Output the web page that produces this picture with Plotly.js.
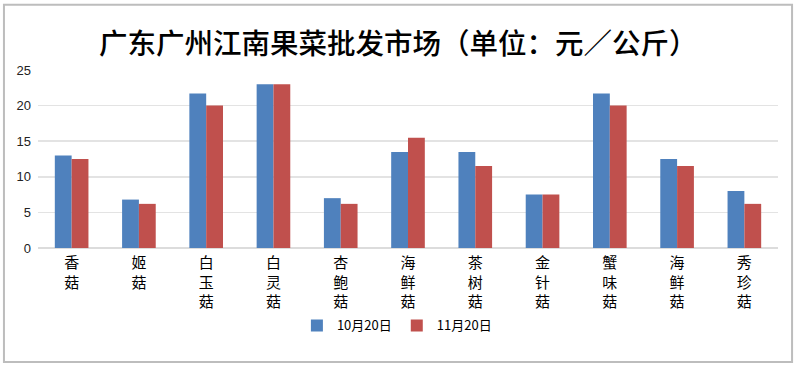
<!DOCTYPE html>
<html>
<head>
<meta charset="utf-8">
<script src="https://cdn.plot.ly/plotly-3.0.1.min.js"></script>
<style>
html,body{margin:0;padding:0;background:#fff;}
#chart{width:800px;height:368px;}
</style>
</head>
<body>
<div id="chart"></div>
<script>
var categories = ["香菇", "姬菇", "白玉菇", "白灵菇", "杏鲍菇", "海鲜菇", "茶树菇", "金针菇", "蟹味菇", "海鲜菇", "秀珍菇"];
var seriesNames = ["10月20日", "11月20日"];
var oct20 = [13, 6.8, 21.7, 23, 7, 13.5, 13.5, 7.5, 21.7, 12.5, 8];
var nov20 = [12.5, 6.2, 20, 23, 6.2, 15.5, 11.5, 7.5, 20, 11.5, 6.2];
var yTicks = [0, 5, 10, 15, 20, 25];

var positions = categories.map(function (c, i) { return i; });
var tickText = categories.map(function (c) { return c.split("").join("<br>"); });

var traces = [
  {type: "bar", name: seriesNames[0], x: positions, y: oct20, marker: {color: "#4F81BD"}, hoverinfo: "y"},
  {type: "bar", name: seriesNames[1], x: positions, y: nov20, marker: {color: "#C0504D"}, hoverinfo: "y"}
];

var layout = {
  width: 800, height: 368,
  margin: {l: 38, r: 22, t: 70, b: 120.3},
  paper_bgcolor: "#ffffff", plot_bgcolor: "#ffffff",
  font: {family: "Noto Sans CJK SC, sans-serif", color: "#000"},
  title: {
    text: "广东广州江南果菜批发市场（单位：元／公斤）",
    font: {family: "Noto Sans CJK SC, sans-serif", size: 28.5, color: "#000", weight: 500},
    x: 0.487, xanchor: "center", y: 0.88, yanchor: "middle", xref: "paper", yref: "container"
  },
  barmode: "group", bargap: 0.5, bargroupgap: 0,
  xaxis: {
    tickmode: "array", tickvals: positions, ticktext: tickText,
    range: [-0.5, categories.length - 0.5],
    showgrid: false, zeroline: false, showline: false, ticks: "",
    ticklabelstandoff: 4,
    tickfont: {family: "Noto Sans CJK SC, sans-serif", size: 15, color: "#000"},
    fixedrange: true
  },
  yaxis: {
    range: [0, 25], tickmode: "array", tickvals: yTicks,
    showgrid: true, gridcolor: "#e3e3e3", gridwidth: 1.5,
    zeroline: true, zerolinecolor: "#dcdcdc", zerolinewidth: 1.5,
    showline: false, ticks: "", ticklabelstandoff: 6,
    tickfont: {family: "Liberation Sans, Arial, sans-serif", size: 13, color: "#222"},
    fixedrange: true
  },
  showlegend: true,
  legend: {
    orientation: "h", x: 0.485, xanchor: "center", y: -0.435, yanchor: "middle",
    font: {family: "Noto Sans CJK SC, sans-serif", size: 13, color: "#000"},
    itemwidth: 30, tracegroupgap: 0
  },
  shapes: [{
    type: "rect", xref: "paper", yref: "paper",
    x0: -0.046, x1: 1.019, y0: -0.64, y1: 1.366,
    line: {color: "#bdbdbd", width: 2}, fillcolor: "rgba(0,0,0,0)", layer: "below"
  }]
};

Plotly.newPlot("chart", traces, layout, {displayModeBar: false, staticPlot: true});
</script>
</body>
</html>
